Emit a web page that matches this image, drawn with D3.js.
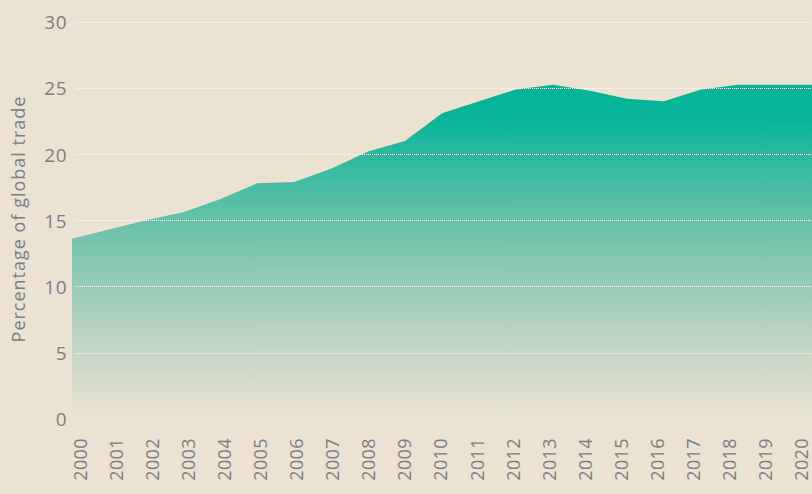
<!DOCTYPE html>
<meta charset="utf-8">
<style>
body { margin: 0; background: #ebe2d2; }
svg { display: block; }
.tick text { font-family: "Open Sans", sans-serif; fill: #7d7d7d; }
</style>
<script src="https://d3js.org/d3.v7.min.js"></script>
<body>
<script>
const years = [2000, 2001, 2002, 2003, 2004, 2005, 2006, 2007, 2008, 2009, 2010,
  2011, 2012, 2013, 2014, 2015, 2016, 2017, 2018, 2019, 2020];
const share = [13.6, 14.3, 15.0, 15.6, 16.6, 17.8, 17.9, 18.9, 20.2, 21.0, 23.1,
  24.0, 24.9, 25.25, 24.8, 24.2, 24.0, 24.9, 25.25, 25.25, 25.25];
const yTicks = [0, 5, 10, 15, 20, 25, 30];

const W = 812, H = 494;
const x0 = 72, x1 = 812, yTop = 22, yBottom = 418.6;

const svg = d3.select('body').append('svg')
  .attr('width', W)
  .attr('height', H);

// the area and the year labels do not share the same spacing in the original
const x = d3.scaleLinear().domain([2000, 2020]).range([x0, x1]);
const xLabel = d3.scaleLinear().domain([2000, 2020]).range([80, 801]);
const y = d3.scaleLinear().domain([0, 30]).range([yBottom, yTop]);

const data = years.map((yr, i) => ({year: yr, value: share[i]}));

// gradient from teal to background
const grad = svg.append('defs').append('linearGradient')
  .attr('id', 'fade')
  .attr('gradientUnits', 'userSpaceOnUse')
  .attr('x1', 0).attr('x2', 0)
  .attr('y1', 100).attr('y2', yBottom);
grad.append('stop').attr('offset', 0).attr('stop-color', '#05b499');
grad.append('stop').attr('offset', 0.06).attr('stop-color', '#0ab59a');
grad.append('stop').attr('offset', 0.4).attr('stop-color', '#6dc2aa');
grad.append('stop').attr('offset', 0.78).attr('stop-color', '#c4d6c4');
grad.append('stop').attr('offset', 1).attr('stop-color', '#ebe2d2');

const area = d3.area()
  .x(d => x(d.year))
  .y0(y(0))
  .y1(d => y(d.value));

svg.append('path')
  .datum(data)
  .attr('d', area)
  .attr('fill', 'url(#fade)');

// dotted gridlines over the area
svg.append('g')
  .selectAll('line')
  .data(yTicks.filter(t => t > 0))
  .join('line')
    .attr('x1', 76).attr('x2', W)
    .attr('y1', d => Math.round(y(d)) + 0.5)
    .attr('y2', d => Math.round(y(d)) + 0.5)
    .attr('stroke', '#ffffff')
    .attr('stroke-width', 1)
    .attr('stroke-dasharray', '1,1')
    .attr('opacity', 0.95);

// y axis labels
const yAxis = svg.append('g')
  .attr('transform', 'translate(67,0)')
  .call(d3.axisLeft(y).tickValues(yTicks).tickSize(0).tickPadding(0));
yAxis.select('.domain').remove();
yAxis.selectAll('text')
  .style('font-size', '19px')
  .style('letter-spacing', '0.5px')
  .attr('dy', '0.36em');

// x axis labels, rotated
const xAxis = svg.append('g')
  .attr('transform', `translate(0,${438})`)
  .call(d3.axisBottom(xLabel).tickValues(years).tickFormat(d3.format('d')).tickSize(0).tickPadding(0));
xAxis.select('.domain').remove();
xAxis.selectAll('text')
  .style('font-size', '18px')
  .style('letter-spacing', '0.4px')
  .attr('text-anchor', 'end')
  .attr('transform', 'rotate(-90)')
  .attr('x', 0)
  .attr('y', 0)
  .attr('dy', '0.36em');

svg.append('text')
  .attr('transform', `translate(25,219) rotate(-90)`)
  .attr('text-anchor', 'middle')
  .style('font-family', '"Open Sans", sans-serif')
  .style('font-size', '18px')
  .style('letter-spacing', '1px')
  .style('fill', '#7d7d7d')
  .text('Percentage of global trade');
</script>
</body>
</html>
